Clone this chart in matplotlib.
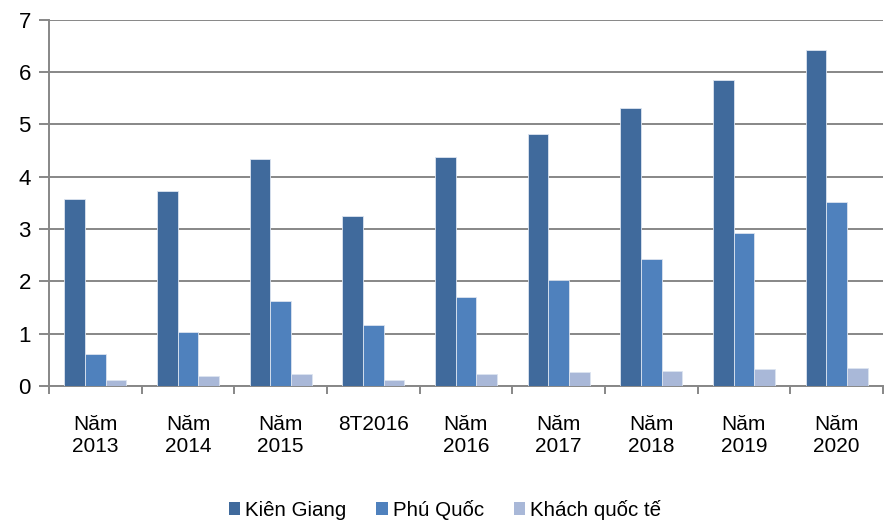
import numpy as np
import matplotlib
matplotlib.use("Agg")
import matplotlib.pyplot as plt
from matplotlib.patches import Patch

plt.rcParams['font.family'] = ['Liberation Sans', 'DejaVu Sans']

# du lieu (trieu luot khach)
categories = ["Năm\n2013", "Năm\n2014", "Năm\n2015", "8T2016", "Năm\n2016",
              "Năm\n2017", "Năm\n2018", "Năm\n2019", "Năm\n2020"]
kien_giang = [3.58, 3.72, 4.34, 3.25, 4.38, 4.82, 5.31, 5.85, 6.42]
phu_quoc = [0.61, 1.03, 1.62, 1.17, 1.70, 2.03, 2.43, 2.92, 3.51]
khach_qt = [0.11, 0.18, 0.23, 0.12, 0.23, 0.26, 0.29, 0.32, 0.35]
series_names = ["Kiên Giang", "Phú Quốc", "Khách quốc tế"]
colors = ["#406A9C", "#4F81BD", "#A9B8D8"]

fig = plt.figure(figsize=(8.9, 5.2), dpi=100)
ax = fig.add_axes([0.055, 0.258, 0.937, 0.704])

x = np.arange(len(categories))
w = 0.223
for k, (vals, c) in enumerate(zip([kien_giang, phu_quoc, khach_qt], colors)):
    ax.bar(x + (k - 1) * w, vals, width=w, color=c, edgecolor="#DCE4F0",
           linewidth=0.6, zorder=3)

ax.set_xlim(-0.5, len(categories) - 0.5)
ax.set_ylim(0, 7)
ax.set_yticks(range(0, 8))
ax.yaxis.grid(True, color="#878787", linewidth=1.4, zorder=0)
ax.tick_params(axis='y', length=7, width=1.4, color="#878787", labelsize=16, pad=6)

ax.set_xticks(x)
ax.set_xticklabels(categories, fontsize=15, linespacing=1.22)
ax.set_xticks(np.arange(-0.5, len(categories)), minor=True)
ax.tick_params(axis='x', which='major', length=0, pad=21)
ax.tick_params(axis='x', which='minor', length=6, width=1.4, color="#878787")

for s in ["top", "right"]:
    ax.spines[s].set_visible(False)
for s in ["left", "bottom"]:
    ax.spines[s].set_color("#878787")
    ax.spines[s].set_linewidth(1.4)

handles = [Patch(facecolor=c, edgecolor="none") for c in colors]
fig.legend(handles, series_names, loc="lower center", bbox_to_anchor=(0.5, -0.035),
           ncol=3, frameon=False, fontsize=14.8, handlelength=0.55, handleheight=0.55,
           handletextpad=0.25, columnspacing=1.45)

fig.savefig("out.png", dpi=100)
